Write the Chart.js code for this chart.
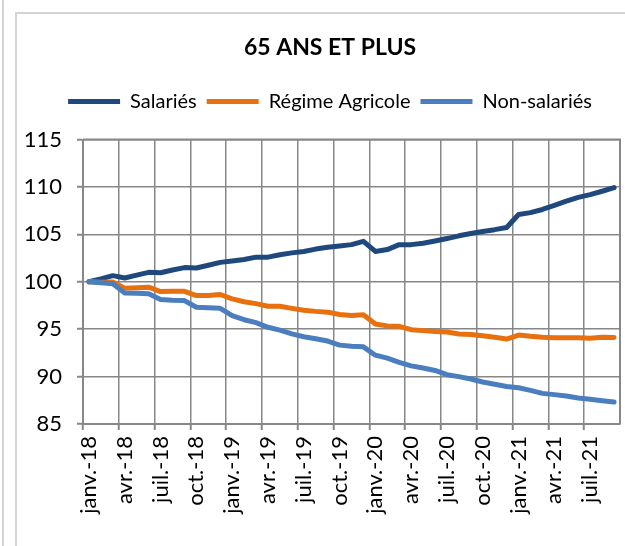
<!DOCTYPE html>
<html>
<head>
<meta charset="utf-8">
<script src="https://cdn.jsdelivr.net/npm/chart.js@4.4.0/dist/chart.umd.min.js"></script>
<style>
  body { margin: 0; background: #fff; }
  #page { position: relative; width: 625px; height: 546px; overflow: hidden; }
  #cadre { position: absolute; left: 15px; top: 12px; width: 640px; height: 600px; border: 2px solid #d4d4d4; }
  #voisin { position: absolute; left: 2px; top: 0; width: 2px; height: 546px; background: #d4d4d4; }
  canvas { position: absolute; left: 0; top: 0; }
</style>
</head>
<body>
<div id="page">
  <div id="voisin"></div>
  <div id="cadre"></div>
  <canvas id="graphique" width="625" height="546"></canvas>
</div>
<script>
// mois de janv.-18 à sept.-21
const moisNoms = ['janv.', 'févr.', 'mars', 'avr.', 'mai', 'juin', 'juil.', 'août', 'sept.', 'oct.', 'nov.', 'déc.'];
const mois = [];
for (let a = 18; a <= 21; a++) {
  for (let m = 0; m < 12; m++) {
    if (a === 21 && m > 8) break;
    mois.push(moisNoms[m] + '-' + a);
  }
}

const salaries = [
  100.0, 100.3, 100.65, 100.4, 100.7, 101.0, 100.95, 101.25, 101.5, 101.45, 101.75, 102.05,
  102.2, 102.35, 102.6, 102.6, 102.85, 103.05, 103.2, 103.45, 103.65, 103.78, 103.92, 104.27,
  103.2, 103.4, 103.92, 103.92, 104.06, 104.3, 104.56, 104.85, 105.1, 105.3, 105.5, 105.73,
  107.1, 107.3, 107.63, 108.05, 108.5, 108.9, 109.2, 109.55, 109.93
];
const agricole = [
  100.0, 99.95, 99.97, 99.33, 99.38, 99.43, 98.97, 99.0, 99.0, 98.55, 98.55, 98.66,
  98.2, 97.9, 97.7, 97.42, 97.42, 97.2, 97.0, 96.88, 96.8, 96.55, 96.45, 96.53,
  95.55, 95.35, 95.3, 94.95, 94.85, 94.75, 94.7, 94.5, 94.45, 94.3, 94.15, 93.96,
  94.38, 94.25, 94.15, 94.1, 94.1, 94.1, 94.05, 94.15, 94.13
];
const nonSalaries = [
  100.0, 99.9, 99.79, 98.83, 98.8, 98.73, 98.13, 98.05, 98.02, 97.31, 97.25, 97.2,
  96.43, 96.0, 95.7, 95.2, 94.9, 94.5, 94.2, 94.0, 93.75, 93.32, 93.2, 93.14,
  92.26, 91.95, 91.5, 91.13, 90.9, 90.65, 90.2, 90.0, 89.75, 89.43, 89.2, 88.95,
  88.83, 88.55, 88.23, 88.1, 87.95, 87.75, 87.6, 87.45, 87.31
];

const gris = '#878787';
const police = 'Lato, "Open Sans", sans-serif';

// cadre de la zone de tracé (haut et droite)
const cadreZone = {
  id: 'cadreZone',
  beforeDatasetsDraw(chart) {
    const { ctx, chartArea: z } = chart;
    ctx.save();
    ctx.strokeStyle = gris;
    ctx.lineWidth = 2;
    ctx.beginPath();
    ctx.moveTo(z.left, z.top);
    ctx.lineTo(z.right, z.top);
    ctx.lineTo(z.right, z.bottom);
    ctx.stroke();
    ctx.restore();
  }
};

// un peu d'espace sous la légende
const espaceLegende = {
  id: 'espaceLegende',
  beforeLayout(chart) {
    const lg = chart.legend;
    if (lg && !lg._espace) {
      const fit = lg.fit.bind(lg);
      lg.fit = function () { fit(); this.height += 18; };
      lg._espace = true;
    }
  }
};

function serie(nom, valeurs, couleur, ordre) {
  return {
    label: nom,
    data: valeurs,
    borderColor: couleur,
    backgroundColor: couleur,
    borderWidth: 5,
    borderCapStyle: 'round',
    borderJoinStyle: 'round',
    pointRadius: 0,
    tension: 0,
    order: ordre,
  };
}

const canvas = document.getElementById('graphique');
new Chart(canvas.getContext('2d'), {
  type: 'line',
  data: {
    labels: mois,
    datasets: [
      serie('Salariés', salaries, '#1F497D', 3),
      serie('Régime Agricole', agricole, '#E8700E', 2),
      serie('Non-salariés', nonSalaries, '#4A7EBF', 1),
    ],
  },
  plugins: [cadreZone, espaceLegende],
  options: {
    responsive: false,
    animation: false,
    layout: { padding: { left: 40, right: 5, top: 0, bottom: 0 } },
    plugins: {
      title: {
        display: true,
        text: '65 ANS ET PLUS',
        color: '#000',
        font: { family: police, size: 23, weight: 'bold' },
        padding: { top: 34, bottom: 20 },
      },
      legend: {
        labels: {
          color: '#000',
          font: { family: police, size: 20 },
          usePointStyle: true,
          pointStyle: 'line',
          pointStyleWidth: 52,
          padding: 10,
          sort: (a, b) => a.datasetIndex - b.datasetIndex,
        },
      },
      tooltip: { enabled: false },
    },
    scales: {
      x: {
        offset: true,
        afterFit: (s) => { s.height = 122; s.paddingLeft = 0; s.paddingRight = 0; },
        grid: {
          offset: true,
          color: (c) => (c.index % 3 === 0 && c.index > 0 ? gris : 'rgba(0,0,0,0)'),
          lineWidth: 1.5,
          borderDash: [6, 4],
          tickColor: (c) => (c.index % 3 === 0 ? gris : 'rgba(0,0,0,0)'),
          tickLength: 6,
          tickWidth: 2,
          tickBorderDash: [],
        },
        border: { color: gris, width: 2 },
        ticks: {
          autoSkip: false,
          maxRotation: 90,
          minRotation: 90,
          padding: 6,
          color: '#000',
          font: { family: police, size: 22 },
          callback: (v, i) => (i % 3 === 0 ? mois[i] : ''),
        },
      },
      y: {
        min: 85,
        max: 115,
        afterFit: (s) => {
          s.width = 43;
          // les étiquettes débordent à gauche de la boîte de l'axe
          s._computeLabelArea = () => undefined;
        },
        grid: {
          color: gris,
          lineWidth: 1.5,
          borderDash: [6, 4],
          tickColor: gris,
          tickLength: 6,
          tickWidth: 2,
          tickBorderDash: [],
        },
        border: { color: gris, width: 2 },
        ticks: {
          stepSize: 5,
          padding: 15,
          color: '#000',
          font: { family: police, size: 22 },
        },
      },
    },
  },
});
</script>
</body>
</html>
